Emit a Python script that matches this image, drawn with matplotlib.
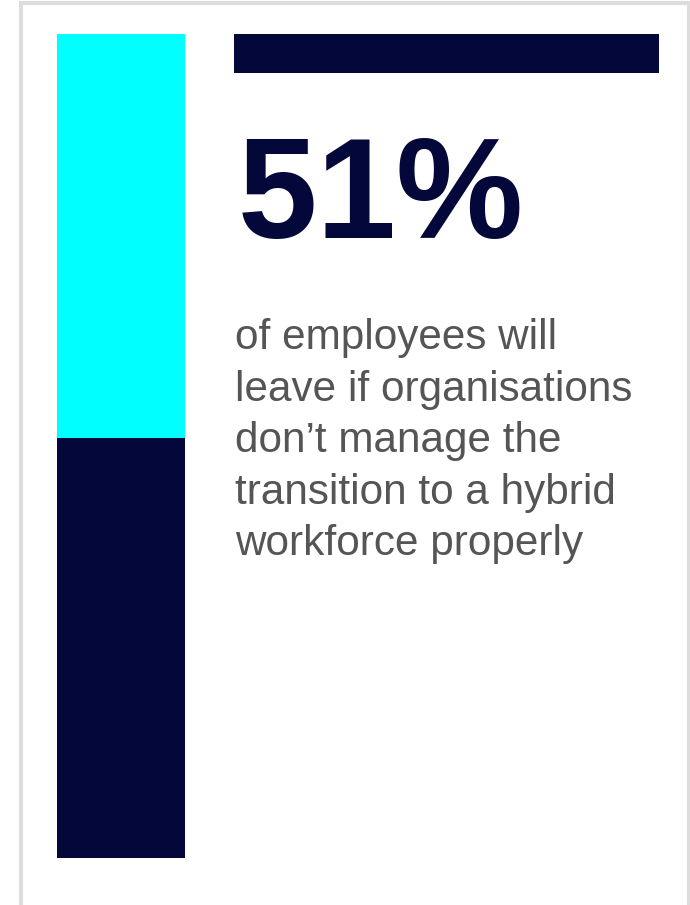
import matplotlib.pyplot as plt
from matplotlib.patches import Rectangle

# share of employees who would leave
share = 51
rest = 100 - share
headline = f"{share}%"
caption = ["of employees will",
           "leave if organisations",
           "don\u2019t manage the",
           "transition to a hybrid",
           "workforce properly"]

navy = "#03073A"
cyan = "#00FFFF"
W, H = 690, 905

fig = plt.figure(figsize=(W / 100, H / 100), dpi=100)
fig.patch.set_facecolor("white")

def px(x0, y0, x1, y1):
    # pixel box (top-left origin) -> figure fraction rect
    return [x0 / W, 1 - y1 / H, (x1 - x0) / W, (y1 - y0) / H]

# light grey frame, open at the bottom
frame = fig.add_axes(px(0, 0, W, H))
frame.set_xlim(0, W)
frame.set_ylim(H, 0)
frame.axis("off")
frame.plot([20.5, 20.5, 688.5, 688.5], [H + 5, 3.5, 3.5, H + 5],
           color="#DDDDDD", lw=3, solid_joinstyle="miter")

# top accent bar
frame.add_patch(Rectangle((234, 34), 425, 39, color=navy, lw=0))

# stacked vertical bar
bar = fig.add_axes(px(57, 34, 185, 858))
bar.bar(0, share, width=1, color=navy, lw=0)
bar.bar(0, rest, bottom=share, width=1, color=cyan, lw=0)
bar.set_xlim(-0.5, 0.5)
bar.set_ylim(0, 100)
bar.axis("off")

frame.text(238, 238, headline, fontsize=103, fontweight="bold",
           family="Liberation Sans", color=navy, va="baseline", ha="left")

for i, line in enumerate(caption):
    frame.text(235, 349 + i * 51.5, line, fontsize=30.4,
               family="Liberation Sans", color="#555555",
               va="baseline", ha="left")

fig.savefig("out.png", dpi=100, facecolor="white")
